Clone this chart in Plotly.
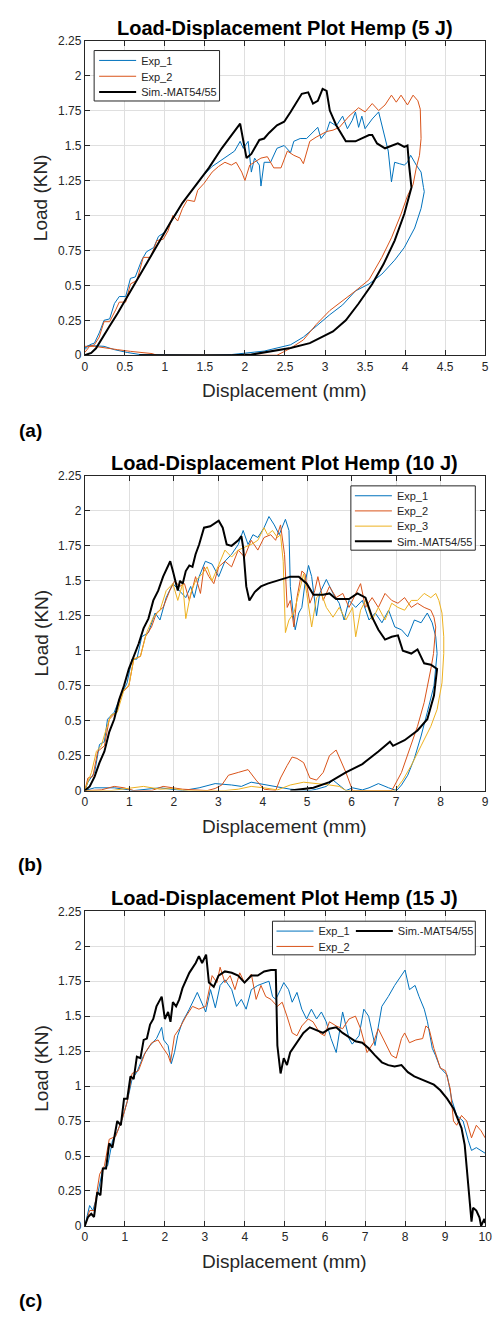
import plotly.graph_objects as go

# ---------------- data ----------------
# (a) 5 J
a_exp1 = [(0,0.04),(0.06,0.075),(0.12,0.087),(0.18,0.16),(0.24,0.25),(0.31,0.26),(0.37,0.37),(0.43,0.42),(0.51,0.42),(0.57,0.55),
          (0.63,0.56),(0.71,0.68),(0.77,0.74),(0.86,0.77),(0.92,0.85),(1.0,0.88),(1.08,0.96),(1.14,1.01),(1.22,1.09),(1.34,1.18),
          (1.47,1.28),(1.59,1.35),(1.67,1.38),(1.79,1.43),(1.87,1.46),(1.94,1.53),(1.98,1.48),(2.04,1.53),(2.08,1.31),(2.12,1.41),
          (2.18,1.36),(2.2,1.21),(2.24,1.38),(2.32,1.38),(2.4,1.48),(2.49,1.5),(2.57,1.45),(2.61,1.53),(2.69,1.55),(2.77,1.55),
          (2.85,1.6),(2.91,1.63),(2.95,1.55),(3.02,1.6),(3.06,1.67),(3.14,1.64),(3.22,1.71),(3.28,1.62),(3.34,1.68),(3.38,1.74),
          (3.42,1.63),(3.46,1.71),(3.5,1.62),(3.59,1.69),(3.67,1.74),(3.73,1.6),(3.79,1.46),(3.83,1.24),(3.87,1.38),(3.93,1.37),
          (3.99,1.36),(4.03,1.38),(4.07,1.43),(4.14,1.36),(4.2,1.31),(4.23,1.2),(4.24,1.17),(4.2,1.05),(4.12,0.91),(3.99,0.77),
          (3.87,0.68),(3.71,0.58),(3.55,0.51),(3.38,0.46),(3.22,0.36),(3.06,0.29),(2.89,0.21),(2.73,0.13),(2.57,0.075),(2.4,0.05),
          (2.24,0.03),(2.0,0.015),(1.83,0.005),(1.5,0),(1.0,0),(0.77,0),(0.69,0.005),(0.53,0.02),(0.37,0.04),(0.24,0.064),
          (0.04,0.07),(0,0.05)]
a_exp2 = [(0,0.02),(0.06,0.064),(0.12,0.075),(0.18,0.13),(0.24,0.24),(0.31,0.24),(0.39,0.33),(0.43,0.38),(0.51,0.38),(0.57,0.51),
          (0.65,0.535),(0.73,0.70),(0.82,0.70),(0.9,0.82),(0.98,0.83),(1.04,0.89),(1.1,1.0),(1.16,0.96),(1.22,1.05),(1.28,1.11),
          (1.37,1.1),(1.41,1.18),(1.49,1.23),(1.59,1.31),(1.67,1.35),(1.75,1.38),(1.83,1.36),(1.89,1.38),(1.96,1.31),(2.0,1.25),
          (2.06,1.36),(2.12,1.38),(2.2,1.41),(2.28,1.42),(2.36,1.34),(2.45,1.34),(2.53,1.46),(2.61,1.43),(2.69,1.41),(2.73,1.37),
          (2.81,1.53),(2.89,1.56),(3.02,1.6),(3.1,1.61),(3.18,1.63),(3.3,1.71),(3.42,1.77),(3.5,1.74),(3.59,1.8),(3.67,1.75),
          (3.75,1.79),(3.83,1.86),(3.89,1.81),(3.95,1.86),(4.03,1.79),(4.1,1.86),(4.16,1.82),(4.19,1.76),(4.2,1.55),(4.18,1.43),
          (4.14,1.34),(4.1,1.22),(4.03,1.14),(3.95,1.01),(3.83,0.84),(3.71,0.70),(3.55,0.54),(3.38,0.46),(3.22,0.39),(3.06,0.32),
          (2.89,0.22),(2.73,0.11),(2.57,0.05),(2.4,0.0),(1.5,0),(0.9,0),(0.84,0.012),(0.73,0.017),(0.57,0.028),(0.41,0.04),
          (0.24,0.052),(0.12,0.064),(0,0.064)]
a_sim = [(0,0),(0.08,0.017),(0.14,0.05),(0.2,0.11),(0.31,0.21),(0.41,0.3),(0.53,0.42),(0.65,0.535),(0.79,0.68),(0.94,0.83),
         (1.08,0.96),(1.22,1.09),(1.39,1.22),(1.55,1.34),(1.71,1.48),(1.94,1.656),(2.02,1.41),(2.08,1.44),(2.12,1.48),(2.18,1.54),
         (2.24,1.55),(2.3,1.59),(2.4,1.645),(2.49,1.67),(2.57,1.74),(2.65,1.81),(2.71,1.87),(2.79,1.88),(2.85,1.8),(2.91,1.82),
         (2.97,1.905),(3.02,1.89),(3.06,1.75),(3.14,1.645),(3.26,1.53),(3.38,1.53),(3.55,1.575),(3.59,1.575),(3.65,1.515),(3.75,1.48),
         (3.83,1.5),(3.91,1.515),(3.99,1.49),(4.03,1.5),(4.05,1.36),(4.08,1.2),(3.99,1.01),(3.87,0.82),(3.73,0.65),(3.59,0.51),
         (3.42,0.37),(3.26,0.25),(3.1,0.17),(2.97,0.135),(2.81,0.087),(2.57,0.052),(2.32,0.028),(2.08,0.005),(1.83,0),(0.68,0)]

# (b) 10 J
b_exp1 = [(0,0),(0.07,0.06),(0.22,0.13),(0.33,0.33),(0.44,0.35),(0.51,0.51),(0.66,0.56),(0.81,0.68),(0.95,0.77),(1.06,0.94),
          (1.17,0.94),(1.28,1.1),(1.43,1.13),(1.58,1.27),(1.69,1.22),(1.83,1.38),(1.98,1.48),(2.13,1.43),(2.27,1.38),(2.38,1.46),
          (2.46,1.38),(2.57,1.53),(2.71,1.64),(2.86,1.62),(3.01,1.53),(3.15,1.64),(3.30,1.69),(3.45,1.76),(3.56,1.86),(3.67,1.76),
          (3.78,1.83),(3.89,1.81),(4.03,1.88),(4.14,1.96),(4.26,1.9),(4.37,1.83),(4.44,1.88),(4.51,1.94),(4.59,1.86),(4.62,1.46),
          (4.70,1.22),(4.73,1.15),(4.81,1.27),(4.88,1.31),(4.95,1.48),(5.03,1.61),(5.1,1.53),(5.21,1.25),(5.28,1.41),(5.43,1.51),
          (5.58,1.41),(5.72,1.34),(5.83,1.22),(5.94,1.36),(6.09,1.31),(6.24,1.36),(6.39,1.22),(6.53,1.27),(6.68,1.2),(6.83,1.29),
          (6.97,1.17),(7.12,1.15),(7.26,1.10),(7.41,1.22),(7.56,1.2),(7.7,1.27),(7.81,1.2),(7.89,1.1),(7.92,0.98),(7.85,0.75),
          (7.7,0.56),(7.56,0.39),(7.41,0.23),(7.26,0.11),(7.12,0.04),(7.01,0),(6.83,0.02),(6.6,0.05),(6.39,0.02),(6.24,0.005),
          (6.02,0.02),(5.87,0),(5.58,0.075),(5.43,0.03),(5.21,0.01),(5.06,0),(4.62,0.01),(4.03,0.04),(3.74,0.06),(3.52,0.03),
          (3.30,0.04),(2.93,0.05),(2.57,0.02),(2.2,0),(1.69,0.02),(1.1,0),(0.66,0.02),(0.22,0.02),(0,0)]
b_exp2 = [(0,0),(0.07,0.09),(0.18,0.1),(0.29,0.28),(0.44,0.32),(0.55,0.51),(0.7,0.56),(0.84,0.7),(0.99,0.75),(1.1,0.94),
          (1.25,0.96),(1.36,1.1),(1.5,1.17),(1.61,1.27),(1.76,1.31),(1.91,1.43),(2.02,1.5),(2.13,1.46),(2.24,1.48),(2.35,1.36),
          (2.49,1.53),(2.6,1.41),(2.68,1.6),(2.79,1.53),(2.9,1.48),(3.01,1.6),(3.15,1.64),(3.3,1.6),(3.45,1.72),(3.59,1.67),
          (3.74,1.79),(3.89,1.72),(4.03,1.81),(4.18,1.83),(4.29,1.79),(4.4,1.9),(4.49,1.69),(4.55,1.31),(4.62,1.36),(4.70,1.17),
          (4.77,1.38),(4.88,1.57),(4.95,1.55),(5.06,1.34),(5.17,1.43),(5.24,1.53),(5.36,1.36),(5.5,1.46),(5.65,1.38),(5.8,1.41),
          (5.94,1.31),(6.09,1.41),(6.2,1.48),(6.31,1.31),(6.46,1.38),(6.6,1.31),(6.75,1.41),(6.9,1.36),(7.04,1.34),(7.19,1.38),
          (7.34,1.31),(7.48,1.34),(7.63,1.31),(7.78,1.29),(7.85,1.24),(7.89,1.17),(7.84,0.98),(7.78,0.87),(7.63,0.63),(7.48,0.46),
          (7.3,0.3),(7.12,0.13),(6.97,0.04),(6.9,0),(6.02,0),(5.87,0.13),(5.65,0.29),(5.5,0.25),(5.36,0.13),(5.21,0.075),
          (5.06,0.09),(4.92,0.2),(4.77,0.23),(4.66,0.24),(4.55,0.18),(4.4,0.09),(4.29,0),(4.03,0.01),(3.85,0.075),(3.67,0.15),
          (3.45,0.13),(3.23,0.11),(3.08,0.04),(2.93,0.015),(2.75,0),(2.2,0.01),(1.98,0.02),(1.76,0.03),(1.5,0),(1.1,0),
          (0.88,0.02),(0.66,0.03),(0.37,0.005),(0,0)]
b_exp3 = [(0,0),(0.04,0.04),(0.15,0.13),(0.26,0.28),(0.37,0.32),(0.48,0.44),(0.59,0.54),(0.73,0.56),(0.88,0.72),(0.99,0.75),
          (1.1,0.94),(1.25,0.96),(1.39,1.13),(1.54,1.24),(1.69,1.29),(1.83,1.43),(1.98,1.48),(2.09,1.36),(2.2,1.48),(2.27,1.23),
          (2.38,1.41),(2.49,1.5),(2.64,1.55),(2.75,1.6),(2.86,1.5),(3.01,1.62),(3.15,1.72),(3.30,1.67),(3.45,1.72),(3.59,1.74),
          (3.74,1.76),(3.89,1.79),(4.03,1.88),(4.11,1.83),(4.22,1.86),(4.33,1.81),(4.4,1.83),(4.46,1.64),(4.51,1.13),(4.59,1.22),
          (4.70,1.27),(4.81,1.41),(4.92,1.55),(4.99,1.41),(5.1,1.17),(5.21,1.38),(5.32,1.41),(5.43,1.31),(5.58,1.24),(5.72,1.31),
          (5.87,1.22),(6.02,1.31),(6.09,1.1),(6.2,1.29),(6.31,1.36),(6.46,1.22),(6.6,1.31),(6.75,1.22),(6.9,1.34),(7.04,1.31),
          (7.19,1.29),(7.34,1.36),(7.48,1.36),(7.63,1.41),(7.78,1.38),(7.89,1.41),(7.96,1.36),(8.03,1.27),(8.07,1.1),(8.07,0.98),
          (8.03,0.77),(7.92,0.58),(7.78,0.46),(7.56,0.32),(7.34,0.18),(7.15,0.075),(6.97,0),(5.87,0),(5.72,0.03),(5.5,0.04),
          (5.21,0.05),(4.92,0.06),(4.62,0.04),(4.33,0.005),(4.03,0.02),(3.74,0.03),(3.45,0.01),(3.15,0),(2.27,0),(1.98,0.015),
          (1.69,0.01),(1.32,0.03),(0.95,0.015),(0.59,0),(0,0)]
b_sim = [(0,0),(0.11,0.03),(0.22,0.1),(0.33,0.2),(0.44,0.28),(0.55,0.42),(0.66,0.51),(0.77,0.65),(0.88,0.75),(0.99,0.87),
         (1.1,0.96),(1.21,1.05),(1.32,1.16),(1.43,1.23),(1.54,1.36),(1.65,1.43),(1.76,1.53),(1.87,1.6),(1.92,1.64),(1.98,1.57),
         (2.09,1.43),(2.14,1.5),(2.2,1.48),(2.27,1.57),(2.35,1.61),(2.42,1.6),(2.49,1.69),(2.57,1.76),(2.68,1.88),(2.82,1.89),
         (3.01,1.93),(3.1,1.88),(3.19,1.76),(3.30,1.75),(3.45,1.79),(3.52,1.82),(3.56,1.74),(3.63,1.46),(3.7,1.36),(3.82,1.42),
         (3.96,1.46),(4.11,1.48),(4.33,1.5),(4.62,1.53),(4.81,1.53),(4.99,1.48),(5.14,1.40),(5.36,1.40),(5.5,1.41),(5.65,1.37),
         (5.94,1.37),(6.13,1.41),(6.31,1.38),(6.46,1.24),(6.6,1.15),(6.75,1.08),(6.9,1.1),(7.04,1.11),(7.15,1.0),(7.34,0.98),
         (7.48,1.01),(7.63,0.91),(7.78,0.90),(7.92,0.87),(7.85,0.68),(7.7,0.51),(7.48,0.43),(7.19,0.36),(6.93,0.32),(6.86,0.35),
         (6.6,0.28),(6.24,0.19),(5.87,0.13),(5.5,0.06),(5.14,0.02),(4.62,0)]

# (c) 15 J
c_exp1 = [(0,0),(0.12,0.146),(0.2,0.11),(0.33,0.24),(0.45,0.41),(0.57,0.43),(0.69,0.61),(0.82,0.68),(0.94,0.77),(1.06,0.89),
          (1.18,1.05),(1.3,1.1),(1.47,1.22),(1.63,1.29),(1.79,1.34),(1.92,1.42),(1.97,1.33),(2.08,1.29),(2.16,1.16),(2.24,1.24),
          (2.32,1.36),(2.44,1.46),(2.61,1.55),(2.81,1.67),(3.02,1.53),(3.14,1.69),(3.26,1.56),(3.38,1.72),(3.5,1.76),(3.67,1.69),
          (3.79,1.57),(3.91,1.62),(4.03,1.55),(4.16,1.69),(4.32,1.72),(4.48,1.74),(4.6,1.75),(4.69,1.64),(4.77,1.62),(4.89,1.69),
          (4.97,1.74),(5.09,1.69),(5.18,1.6),(5.3,1.67),(5.42,1.55),(5.54,1.48),(5.66,1.55),(5.79,1.48),(5.91,1.53),(6.03,1.46),
          (6.15,1.34),(6.28,1.24),(6.44,1.53),(6.6,1.34),(6.68,1.3),(6.85,1.36),(6.97,1.55),(7.09,1.5),(7.25,1.29),(7.42,1.57),
          (7.58,1.64),(7.74,1.72),(7.91,1.79),(8.0,1.83),(8.11,1.69),(8.25,1.72),(8.35,1.64),(8.48,1.55),(8.56,1.46),(8.68,1.27),
          (8.76,1.22),(8.88,1.13),(9.05,1.08),(9.17,0.9),(9.29,0.79),(9.45,0.75),(9.58,0.61),(9.66,0.54),(9.78,0.56),(9.9,0.54),
          (10,0.52)]
c_exp2 = [(0,0),(0.12,0.11),(0.23,0.11),(0.37,0.37),(0.49,0.43),(0.61,0.62),(0.77,0.64),(0.94,0.77),(1.06,0.89),(1.18,1.09),
          (1.34,1.11),(1.51,1.24),(1.67,1.31),(1.83,1.33),(1.96,1.27),(2.08,1.22),(2.14,1.17),(2.24,1.36),(2.36,1.41),(2.53,1.5),
          (2.69,1.57),(2.85,1.55),(3.02,1.57),(3.18,1.79),(3.3,1.74),(3.38,1.85),(3.5,1.74),(3.63,1.79),(3.75,1.69),(3.87,1.81),
          (3.99,1.74),(4.16,1.8),(4.28,1.62),(4.4,1.72),(4.52,1.64),(4.65,1.62),(4.81,1.57),(4.93,1.6),(5.05,1.5),(5.18,1.38),
          (5.3,1.36),(5.42,1.43),(5.58,1.48),(5.7,1.46),(5.87,1.38),(5.99,1.36),(6.11,1.46),(6.28,1.43),(6.44,1.41),(6.6,1.48),
          (6.76,1.5),(6.89,1.41),(7.05,1.24),(7.21,1.31),(7.33,1.41),(7.5,1.31),(7.66,1.22),(7.78,1.2),(7.91,1.34),(7.99,1.38),
          (8.11,1.31),(8.27,1.33),(8.44,1.34),(8.52,1.43),(8.6,1.41),(8.72,1.27),(8.88,1.13),(9.01,1.11),(9.13,0.98),(9.21,0.75),
          (9.29,0.72),(9.41,0.79),(9.54,0.75),(9.66,0.63),(9.78,0.72),(9.9,0.68),(10,0.63)]
c_sim = [(0,0),(0.08,0.064),(0.16,0.087),(0.23,0.064),(0.31,0.24),(0.39,0.22),(0.45,0.41),(0.53,0.41),(0.61,0.59),(0.69,0.56),
         (0.81,0.75),(0.9,0.72),(0.98,0.91),(1.06,0.91),(1.14,1.07),(1.22,1.05),(1.3,1.21),(1.39,1.2),(1.47,1.33),(1.55,1.34),
         (1.63,1.44),(1.71,1.48),(1.79,1.57),(1.92,1.64),(2.0,1.48),(2.08,1.53),(2.14,1.46),(2.2,1.6),(2.28,1.57),(2.36,1.62),
         (2.44,1.7),(2.53,1.76),(2.61,1.81),(2.77,1.88),(2.85,1.93),(2.93,1.88),(3.03,1.94),(3.1,1.74),(3.22,1.71),(3.34,1.79),
         (3.5,1.82),(3.67,1.81),(3.83,1.79),(3.99,1.74),(4.16,1.79),(4.32,1.79),(4.48,1.82),(4.65,1.83),(4.77,1.83),(4.81,1.29),
         (4.89,1.09),(4.97,1.2),(5.05,1.15),(5.13,1.24),(5.3,1.31),(5.46,1.38),(5.62,1.42),(5.79,1.4),(5.95,1.38),(6.11,1.41),
         (6.28,1.42),(6.44,1.38),(6.6,1.35),(6.76,1.32),(6.93,1.31),(7.09,1.27),(7.25,1.22),(7.42,1.17),(7.58,1.15),(7.74,1.14),
         (7.91,1.15),(8.07,1.1),(8.23,1.07),(8.39,1.05),(8.56,1.03),(8.72,1.01),(8.88,0.97),(9.05,0.91),(9.21,0.84),(9.33,0.75),
         (9.41,0.70),(9.49,0.58),(9.58,0.3),(9.66,0.03),(9.7,0.13),(9.78,0.11),(9.86,0.06),(9.9,0),(9.98,0.05),(10,0.02)]

titles = ["Load-Displacement Plot Hemp (5 J)", "Load-Displacement Plot Hemp (10 J)", "Load-Displacement Plot Hemp (15 J)"]
panel_labels = ["(a)", "(b)", "(c)"]
x_ranges = [5, 9, 10]
x_dticks = [0.5, 1, 1]
y_max = 2.25
y_dtick = 0.25
x_title = "Displacement (mm)"
y_title = "Load (KN)"

# ---------------- styling / layout ----------------
W, H = 498, 1319
FONT = "Liberation Sans, Arial, Helvetica, sans-serif"
BLUE, ORANGE, YELLOW, BLACK = "#0072BD", "#D95319", "#EDB120", "#000000"
AX = "#262626"

def px(x):
    return x / W

def py(y):
    return 1 - y / H

# pixel boxes of the three axes: (top, bottom)
panels = [(34, 352), (474, 792), (914, 1232)]
XL, XR = 83.5, 492

fig = go.Figure()

series = [
    # panel, data, name, color, width, legend id, legend x px, legend y px
    (0, a_exp1, "Exp_1", BLUE, 1, "legend", 93, 54),
    (0, a_exp2, "Exp_2", ORANGE, 1, "legend2", 93, 70),
    (0, a_sim, "Sim.-MAT54/55", BLACK, 2, "legend3", 93, 86),
    (1, b_exp1, "Exp_1", BLUE, 1, "legend4", 354, 494),
    (1, b_exp2, "Exp_2", ORANGE, 1, "legend5", 354, 509.3),
    (1, b_exp3, "Exp_3", YELLOW, 1, "legend6", 354, 524.7),
    (1, b_sim, "Sim.-MAT54/55", BLACK, 2, "legend7", 354, 540),
    (2, c_exp1, "Exp_1", BLUE, 1, "legend8", 274, 934),
    (2, c_exp2, "Exp_2", ORANGE, 1, "legend9", 274, 949.5),
    (2, c_sim, "Sim.-MAT54/55", BLACK, 2, "legend10", 355, 934),
]

legend_layouts = {}
for p, data, name, color, width, leg, lx, ly in series:
    xs = [d[0] for d in data]
    ys = [d[1] for d in data]
    suffix = "" if p == 0 else str(p + 1)
    fig.add_trace(go.Scatter(
        x=xs, y=ys, mode="lines", name=name,
        line=dict(color=color, width=width),
        xaxis="x" + suffix, yaxis="y" + suffix,
        legend=leg, showlegend=True, hoverinfo="skip",
    ))
    legend_layouts[leg] = dict(
        x=px(lx), y=py(ly), xanchor="left", yanchor="middle",
        bgcolor="rgba(0,0,0,0)", borderwidth=0, itemwidth=37,
        font=dict(family=FONT, size=11, color=AX),
        itemclick=False, itemdoubleclick=False,
    )

layout = dict(
    width=W, height=H,
    margin=dict(l=0, r=0, t=0, b=0),
    paper_bgcolor="white", plot_bgcolor="white",
    font=dict(family=FONT, color=AX),
    showlegend=True,
)
layout.update(legend_layouts)

annotations = []
shapes = []
for i, (top, bot) in enumerate(panels):
    suffix = "" if i == 0 else str(i + 1)
    layout["xaxis" + suffix] = dict(
        domain=[px(XL), px(XR)], anchor="y" + suffix,
        range=[0, x_ranges[i]], dtick=x_dticks[i], tick0=0,
        showgrid=True, gridcolor="#dfdfdf", gridwidth=1, zeroline=False,
        showline=True, linecolor=AX, linewidth=1, mirror="ticks",
        ticks="inside", ticklen=5, tickcolor=AX, tickwidth=1,
        tickfont=dict(family=FONT, size=12, color=AX),
        ticklabeloverflow="allow",
        fixedrange=True,
    )
    layout["yaxis" + suffix] = dict(
        domain=[py(bot), py(top)], anchor="x" + suffix,
        range=[0, y_max], dtick=y_dtick, tick0=0,
        showgrid=True, gridcolor="#dfdfdf", gridwidth=1, zeroline=False,
        showline=True, linecolor=AX, linewidth=1, mirror="ticks",
        ticks="inside", ticklen=5, tickcolor=AX, tickwidth=1,
        tickfont=dict(family=FONT, size=12, color=AX),
        fixedrange=True,
    )
    # title
    annotations.append(dict(text="<b>" + titles[i] + "</b>", x=px((XL + XR) / 2), y=py(top - 13),
                            xref="paper", yref="paper", xanchor="center", yanchor="middle",
                            showarrow=False, font=dict(family=FONT, size=20, color="black")))
    # x title
    annotations.append(dict(text=x_title, x=px((XL + XR) / 2), y=py(bot + 36),
                            xref="paper", yref="paper", xanchor="center", yanchor="middle",
                            showarrow=False, font=dict(family=FONT, size=19, color=AX)))
    # y title
    annotations.append(dict(text=y_title, x=px(39), y=py((top + bot) / 2),
                            xref="paper", yref="paper", xanchor="center", yanchor="middle",
                            textangle=-90, showarrow=False, font=dict(family=FONT, size=19, color=AX)))

# panel labels
for lab, yy in zip(panel_labels, [428, 867, 1307]):
    annotations.append(dict(text="<b>" + lab + "</b>", x=px(28), y=py(yy),
                            xref="paper", yref="paper", xanchor="center", yanchor="middle",
                            showarrow=False, font=dict(family=FONT, size=19, color="black")))

# legend boxes
for (x0, y0, x1, y1) in [(93, 44, 221, 95), (355, 484, 482, 549), (275, 924, 482, 958)]:
    shapes.append(dict(type="rect", xref="paper", yref="paper",
                       x0=px(x0), x1=px(x1), y0=py(y1), y1=py(y0),
                       line=dict(color=AX, width=1), fillcolor="white", layer="above"))

layout["annotations"] = annotations
layout["shapes"] = shapes
fig.update_layout(**layout)

fig.write_html("out.html", config={"displayModeBar": False},
               post_script="document.body.style.margin='0';document.body.style.padding='0';")
